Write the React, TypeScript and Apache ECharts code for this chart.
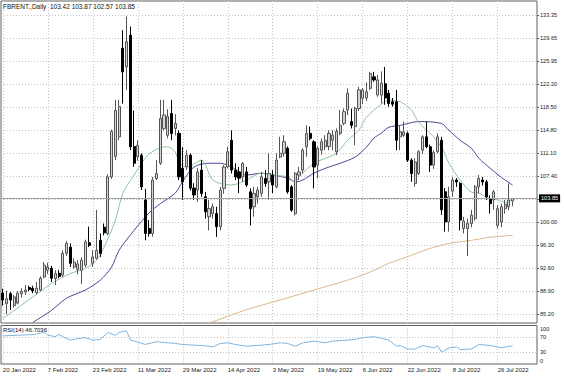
import React, { useEffect, useRef } from 'react';
import * as echarts from 'echarts';

const symbolName = 'FBRENT.,Daily';
const startDate = '2022-01-20';
const holidays = ['2022-04-15'];
const barCount = 137;
const futureSlots = 6;

const opens = [
  88.6, 86.9, 88.5, 86.6, 87.0, 88.5, 88.8, 89.5, 89.4, 88.7,
  89.1, 91.2, 92.3, 92.6, 90.95, 91.8, 91.5, 95.0, 96.0, 92.8,
  92.4, 92.3, 93.1, 96.7, 93.4, 94.2, 97.1, 99.2, 98.2, 107.3,
  110.6, 113.75, 128.0, 125.0, 130.1, 112.2, 110.55, 110.8, 103.6, 99.0,
  98.2, 107.05, 109.5, 115.1, 114.0, 117.5, 115.1, 114.3, 108.7, 108.9,
  110.8, 105.5, 105.2, 108.4, 104.1, 100.9, 101.4, 101.4, 99.3, 105.45,
  108.9, 113.2, 108.4, 108.1, 107.3, 108.1, 104.9, 102.5, 104.1, 104.65,
  107.05, 106.5, 107.6, 105.7, 110.5, 111.1, 111.9, 105.7, 101.4, 107.6,
  108.4, 112.15, 114.3, 112.95, 109.2, 111.6, 112.15, 112.2, 113.2, 111.35,
  114.3, 115.9, 118.05, 116.2, 115.4, 118.3, 119.95, 120.0, 121.55, 123.4,
  120.5, 120.45, 122.3, 120.75, 119.4, 119.4, 113.75, 114.0, 114.3, 110.0,
  106.25, 107.85, 111.6, 113.75, 112.15, 109.2, 111.35, 113.2, 104.9, 100.05,
  105.0, 106.8, 106.25, 99.0, 99.0, 99.8, 100.6, 105.7, 106.8, 106.5,
  103.8, 103.6, 99.5, 100.05, 102.2, 102.5, 103.42,
];
const highs = [
  89.3, 89.0, 88.8, 88.3, 88.9, 89.4, 89.9, 89.8, 89.8, 90.4,
  91.3, 93.6, 93.5, 93.0, 92.3, 92.3, 95.5, 97.0, 96.6, 94.2,
  93.9, 94.4, 97.2, 99.3, 95.5, 102.0, 98.2, 99.8, 107.7, 114.9,
  119.7, 119.7, 130.9, 133.1, 131.5, 118.0, 113.2, 111.1, 105.4, 100.35,
  107.3, 110.0, 119.7, 119.7, 118.2, 119.7, 117.4, 114.8, 112.1, 111.6,
  111.1, 106.3, 108.7, 110.0, 104.9, 103.6, 103.0, 102.5, 105.7, 109.2,
  112.15, 114.8, 109.5, 108.9, 109.7, 108.9, 105.45, 105.7, 105.7, 108.1,
  108.4, 111.1, 108.4, 111.1, 113.75, 114.0, 112.2, 106.0, 108.1, 108.9,
  111.9, 115.6, 115.4, 113.2, 112.2, 113.5, 114.0, 114.8, 114.8, 115.1,
  118.05, 118.3, 121.55, 118.3, 118.6, 121.8, 121.6, 122.5, 124.2, 124.2,
  123.7, 124.3, 125.0, 121.3, 120.0, 121.3, 115.6, 116.2, 114.6, 110.3,
  110.3, 111.6, 114.0, 116.2, 112.5, 111.6, 114.3, 113.75, 105.5, 105.7,
  107.3, 107.1, 106.5, 100.9, 100.6, 102.0, 106.0, 107.6, 107.3, 106.8,
  104.35, 105.2, 102.75, 103.0, 103.6, 106.25, 103.87,
];
const lows = [
  86.6, 85.2, 85.9, 86.3, 86.8, 87.9, 88.3, 88.9, 88.6, 88.4,
  88.9, 91.0, 91.7, 90.4, 89.9, 91.0, 91.2, 94.6, 92.8, 92.5,
  91.6, 90.1, 92.8, 96.0, 92.8, 94.0, 94.4, 97.9, 97.9, 107.0,
  110.0, 113.2, 119.1, 121.3, 111.6, 108.9, 109.9, 105.2, 97.1, 97.7,
  97.7, 106.8, 109.2, 114.8, 113.5, 113.2, 114.0, 106.8, 103.6, 108.4,
  105.1, 103.6, 103.3, 104.1, 100.6, 98.7, 100.6, 97.65, 98.7, 104.6,
  108.65, 107.85, 106.8, 104.7, 106.5, 105.7, 99.5, 100.9, 103.0, 104.1,
  105.7, 103.6, 104.7, 105.45, 110.3, 110.55, 104.6, 101.7, 101.1, 106.8,
  107.85, 110.55, 113.2, 105.45, 107.1, 110.9, 111.6, 111.6, 111.6, 110.8,
  114.0, 115.6, 117.25, 115.1, 112.4, 117.9, 119.0, 119.5, 121.3, 122.6,
  120.2, 119.1, 118.9, 118.6, 118.6, 111.6, 111.6, 113.75, 109.7, 106.5,
  105.7, 107.6, 111.0, 111.9, 108.1, 108.6, 111.1, 101.2, 98.5, 98.5,
  104.1, 105.7, 98.7, 98.2, 94.55, 99.2, 100.3, 104.65, 105.9, 103.6,
  101.4, 102.0, 99.0, 99.2, 101.4, 101.95, 102.57,
];
const closes = [
  87.5, 87.7, 87.5, 88.0, 88.6, 88.9, 89.1, 89.2, 89.0, 89.4,
  91.0, 93.1, 92.8, 91.0, 91.75, 91.3, 95.0, 96.6, 93.4, 93.6,
  93.3, 93.9, 96.85, 96.3, 94.4, 95.5, 95.0, 98.3, 107.3, 114.6,
  118.0, 118.6, 124.2, 129.05, 112.15, 109.5, 112.4, 105.7, 98.2, 98.2,
  106.8, 107.85, 116.7, 117.25, 117.0, 114.3, 115.9, 107.3, 106.5, 110.8,
  105.5, 104.4, 108.1, 104.65, 101.7, 102.2, 102.5, 99.3, 105.2, 108.9,
  111.35, 108.4, 107.3, 107.1, 109.45, 106.0, 102.2, 104.65, 105.2, 107.3,
  106.25, 107.85, 106.0, 110.0, 111.1, 112.95, 104.9, 101.95, 107.85, 108.1,
  111.6, 114.3, 113.5, 108.9, 111.9, 112.95, 113.2, 114.3, 114.0, 114.6,
  115.6, 117.8, 120.75, 115.6, 118.3, 121.3, 121.3, 121.0, 123.95, 122.9,
  122.9, 122.35, 120.0, 119.1, 119.0, 113.2, 114.55, 114.55, 110.0, 107.85,
  109.7, 111.35, 113.75, 112.15, 109.2, 111.2, 113.75, 102.0, 100.05, 104.1,
  106.8, 106.5, 100.35, 100.2, 99.8, 101.15, 105.7, 107.05, 106.5, 104.1,
  103.0, 104.9, 102.2, 102.5, 102.9, 103.6, 103.85,
];

// moving averages: [bar index, value]
const maFast = [
  [0, 84.5], [8, 88.0], [13, 90.15], [18, 91.75], [22, 92.6], [25, 93.9], [27, 96.0],
  [30, 100.3], [32, 104.65], [35, 107.6], [37, 109.5], [39, 111.0], [42, 112.0], [44, 112.15],
  [46, 111.3], [47, 109.7], [49, 108.9], [53, 110.0], [56, 106.8], [61, 106.0], [65, 106.8],
  [69, 107.9], [72, 107.6], [76, 107.3], [78, 106.5], [79, 107.3], [83, 109.5], [87, 110.5],
  [89, 111.1], [92, 113.2], [95, 114.8], [97, 116.9], [101, 119.0], [103, 119.65], [106, 119.4],
  [109, 118.05], [111, 116.0], [114, 114.35], [117, 112.1], [119, 109.5], [122, 106.8],
  [125, 104.85], [127, 104.7], [129, 104.0], [132, 103.6], [134, 103.2], [136, 103.6],
];
const maSlow = [
  [8, 83.9], [13, 85.85], [17, 87.8], [22, 89.1], [26, 90.7], [29, 92.8], [31, 95.5],
  [35, 98.7], [39, 101.5], [42, 103.0], [46, 104.7], [48, 106.6], [51, 108.9], [55, 109.5],
  [58, 109.5], [61, 108.9], [65, 107.6], [69, 107.9], [72, 107.6], [76, 107.1], [78, 106.5],
  [80, 106.8], [83, 107.9], [87, 108.9], [90, 109.5], [94, 110.5], [97, 112.1], [99, 113.55],
  [101, 114.35], [103, 115.3], [106, 115.6], [111, 116.2], [117, 115.9], [119, 114.8],
  [122, 113.2], [125, 111.9], [127, 110.3], [130, 108.7], [133, 107.2], [135, 106.4], [136, 105.95],
];
const maLong = [
  [50, 83.0], [55, 83.8], [65, 85.95], [74, 87.5], [83, 89.1], [92, 90.7], [98, 92.0],
  [103, 93.4], [109, 94.7], [114, 95.8], [119, 96.6], [125, 97.1], [130, 97.6], [136, 97.9],
];
const rsi = [
  [0, 73], [4, 74.7], [8, 76.5], [10, 80], [11, 83.5], [12, 74.7], [14, 71], [15, 77],
  [16, 71], [18, 62], [20, 66], [22, 68.4], [24, 62], [26, 64], [28, 81.8], [30, 74.7],
  [31, 81.8], [33, 86], [34, 62], [36, 57], [38, 50.7], [39, 53.3], [41, 57.8], [44, 55],
  [46, 53.3], [48, 50.7], [51, 49], [53, 48], [55, 46.2], [56, 44.4], [58, 53.3], [60, 55],
  [62, 50.7], [65, 46.2], [69, 49], [71, 50.7], [74, 55], [76, 53.3], [78, 46.2], [80, 55],
  [83, 59.5], [86, 55], [88, 59.5], [91, 61.3], [94, 64], [96, 68.4], [99, 71], [101, 66.7],
  [103, 62], [105, 46.2], [106, 48], [108, 39], [110, 39], [112, 48], [115, 41.8], [116, 48],
  [117, 31.1], [119, 41.8], [121, 44.4], [122, 37.3], [125, 39], [127, 50.7], [130, 48],
  [132, 44.4], [133, 41.8], [135, 46.2], [136, 46.7036],
];

const priceTicks = [85.2, 88.9, 92.6, 96.3, 100.0, 107.4, 111.1, 114.8, 118.5, 122.2, 125.95, 129.65, 133.35];
const hiddenPriceTicks = [103.7];
const rsiLabels = [0, 30, 70, 100];
const rsiLevels = [30, 70];
const currentPrice = 103.85;
const MONTHS = ['Jan', 'Feb', 'Mar', 'Apr', 'May', 'Jun', 'Jul', 'Aug', 'Sep', 'Oct', 'Nov', 'Dec'];

function buildDates(count: number): string[] {
  const out: string[] = [];
  const d = new Date(startDate + 'T00:00:00Z');
  while (out.length < count) {
    const dow = d.getUTCDay();
    const iso = d.toISOString().slice(0, 10);
    if (dow !== 0 && dow !== 6 && !holidays.includes(iso)) out.push(iso);
    d.setUTCDate(d.getUTCDate() + 1);
  }
  return out;
}

function fmtDate(v: string): string {
  if (!v) return '';
  const [y, m, d] = v.split('-');
  return `${+d} ${MONTHS[+m - 1]} ${y}`;
}

const FONT = '"Liberation Sans", Arial, sans-serif';
const GRID_DOT = { color: '#c4c4c4', width: 1, type: [1, 2] as any };

export default function App() {
  const ref = useRef<HTMLDivElement>(null);
  useEffect(() => {
    if (!ref.current) return;
    const chart = echarts.init(ref.current, undefined, { renderer: 'svg' });
    const categories = buildDates(barCount + futureSlots);
    const last = barCount - 1;
    const candles = opens.map((o, i) => [o, closes[i], lows[i], highs[i]]);
    const titleText = `${symbolName}  ${opens[last].toFixed(2)} ${highs[last].toFixed(2)} ${lows[last].toFixed(2)} ${closes[last].toFixed(2)}`;
    const rsiText = `RSI(14) ${rsi[rsi.length - 1][1]}`;

    const option: any = {
      animation: false,
      backgroundColor: '#ffffff',
      textStyle: { fontFamily: FONT },
      title: [
        { text: titleText, left: 3, top: 3, padding: 0, textStyle: { fontSize: 6.5, fontWeight: 'normal', color: '#111', fontFamily: FONT } },
        { text: rsiText, left: 3, top: 327, padding: 0, textStyle: { fontSize: 6, fontWeight: 'normal', color: '#111', fontFamily: FONT } },
      ],
      grid: [
        { left: 1, top: 1, width: 536, height: 322, show: true, borderColor: '#606060', borderWidth: 1, backgroundColor: '#fff', outerBoundsMode: 'none', containLabel: false },
        { left: 1, top: 325.5, width: 536, height: 38.5, show: true, borderColor: '#606060', borderWidth: 1, backgroundColor: '#fff', outerBoundsMode: 'none', containLabel: false },
      ],
      xAxis: [
        {
          type: 'category', gridIndex: 0, data: categories, boundaryGap: true,
          axisLine: { show: false }, axisTick: { show: false }, axisLabel: { show: false },
          splitLine: { show: true, interval: 11, alignWithLabel: true, lineStyle: GRID_DOT },
        },
        {
          type: 'category', gridIndex: 1, data: categories, boundaryGap: true,
          axisLine: { show: false }, axisTick: { show: false },
          axisLabel: {
            show: true, interval: 11, align: 'left', margin: 3, fontSize: 6, color: '#222',
            fontFamily: FONT, formatter: fmtDate,
          },
          splitLine: { show: true, interval: 11, alignWithLabel: true, lineStyle: GRID_DOT },
        },
      ],
      yAxis: [
        {
          type: 'value', gridIndex: 0, position: 'right', min: 83.8, max: 135.6, scale: true,
          axisLine: { show: false },
          axisTick: { show: true, length: 2, customValues: [...priceTicks, ...hiddenPriceTicks], lineStyle: { color: '#606060' } },
          axisLabel: {
            show: true, customValues: priceTicks, margin: 3, fontSize: 5.6, color: '#222', fontFamily: FONT,
            formatter: (v: number) => v.toFixed(2),
          },
          splitLine: { show: true, lineStyle: GRID_DOT },
        },
        {
          type: 'value', gridIndex: 1, position: 'right', min: 0, max: 100,
          axisLine: { show: false },
          axisTick: { show: false, customValues: rsiLevels },
          axisLabel: {
            show: true, customValues: rsiLabels, margin: 3, fontSize: 5.6, color: '#222', fontFamily: FONT,
            verticalAlignMinLabel: 'bottom', verticalAlignMaxLabel: 'top',
          },
          splitLine: { show: true, lineStyle: GRID_DOT },
        },
      ],
      series: [
        {
          type: 'line', name: 'MA200', xAxisIndex: 0, yAxisIndex: 0, data: maLong,
          symbol: 'none', smooth: 0.3, lineStyle: { color: '#dcb88e', width: 1 }, z: 3, clip: true,
        },
        {
          type: 'line', name: 'MA slow', xAxisIndex: 0, yAxisIndex: 0, data: maSlow,
          symbol: 'none', smooth: 0.3, lineStyle: { color: '#4b4694', width: 1 }, z: 3, clip: true,
        },
        {
          type: 'line', name: 'MA fast', xAxisIndex: 0, yAxisIndex: 0, data: maFast,
          symbol: 'none', smooth: 0.3, lineStyle: { color: '#8fc59c', width: 1 }, z: 3, clip: true,
        },
        {
          type: 'candlestick', name: symbolName, xAxisIndex: 0, yAxisIndex: 0, data: candles,
          barWidth: 2.6, z: 4, clip: true,
          itemStyle: { color: '#d4d4d4', color0: '#000000', borderColor: '#555555', borderColor0: '#000000', borderWidth: 1 },
          markLine: {
            silent: true, symbol: 'none', animation: false,
            data: [{ yAxis: currentPrice }],
            lineStyle: { color: '#a0a0a0', type: 'solid', width: 1 },
            label: {
              show: true, position: 'end', distance: 2, formatter: currentPrice.toFixed(2),
              backgroundColor: '#000', color: '#fff', fontSize: 5.6, padding: [1, 2, 1, 2], fontFamily: FONT,
            },
          },
        },
        {
          type: 'line', name: 'RSI(14)', xAxisIndex: 1, yAxisIndex: 1, data: rsi,
          symbol: 'none', lineStyle: { color: '#82b4dc', width: 1 }, z: 3,
        },
      ],
    };
    chart.setOption(option);
    return () => chart.dispose();
  }, []);
  return (
    <div
      ref={ref}
      style={{ position: 'absolute', left: 0, top: 0, width: 564, height: 376, background: '#fff' }}
    />
  );
}
